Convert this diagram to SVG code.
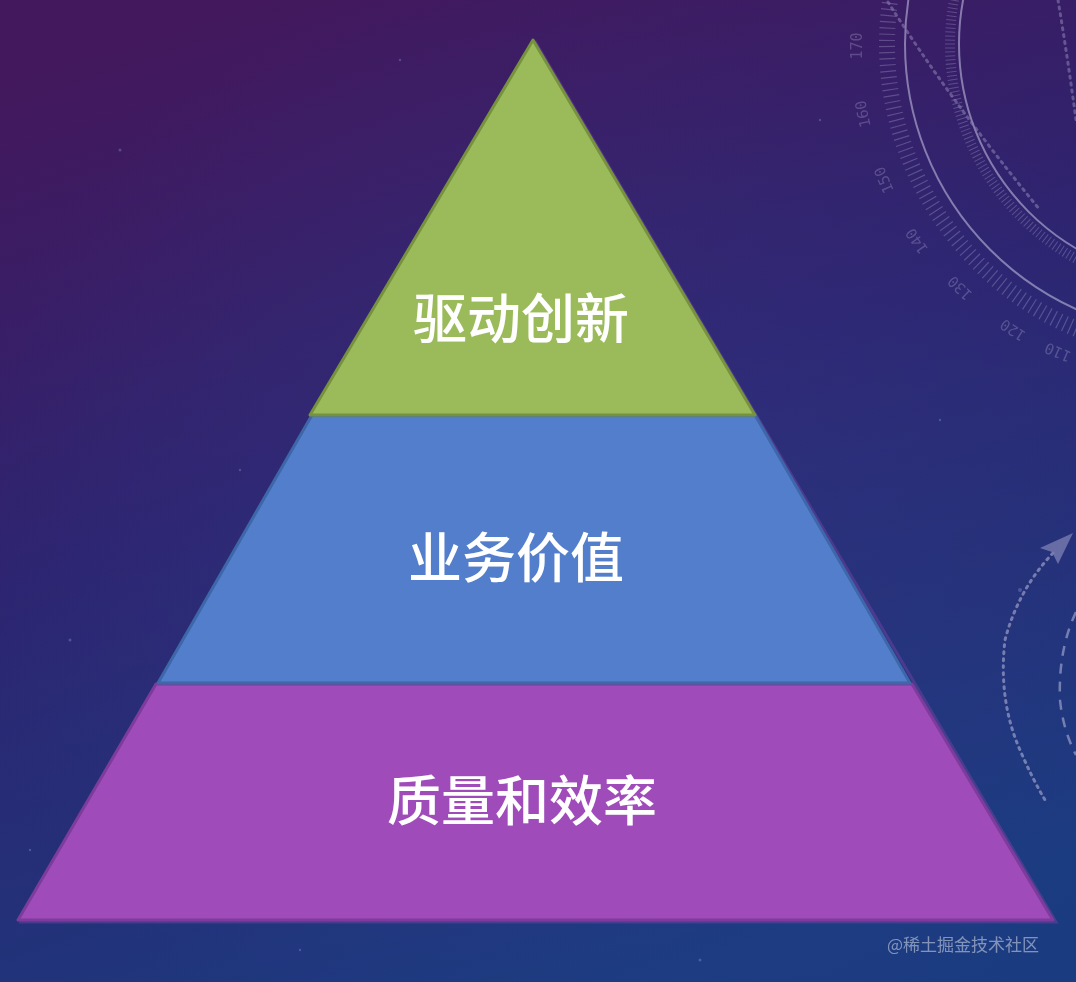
<svg xmlns="http://www.w3.org/2000/svg" width="1076" height="982" viewBox="0 0 1076 982">
<defs>
<linearGradient id="bg" x1="0.25" y1="0" x2="0.6" y2="1">
<stop offset="0" stop-color="#43185d"/>
<stop offset="0.45" stop-color="#2d2470"/>
<stop offset="1" stop-color="#1b3b80"/>
</linearGradient>
<radialGradient id="glow" cx="0.55" cy="0.55" r="0.6">
<stop offset="0" stop-color="#3a4a9a" stop-opacity="0.25"/>
<stop offset="1" stop-color="#3a4a9a" stop-opacity="0"/>
</radialGradient>
<style>
.deco{fill:none;stroke:#c9c6e6;}
.num{font-family:"DejaVu Sans Mono","Liberation Mono",monospace;font-size:15px;fill:#b9b4dc;fill-opacity:0.55;text-anchor:middle;dominant-baseline:central;}
.lbl{font-family:"Noto Sans CJK SC","Noto Sans",sans-serif;font-size:54px;font-weight:500;fill:#ffffff;text-anchor:middle;}
.wm{font-family:"Noto Sans CJK SC","Noto Sans",sans-serif;font-size:17px;fill:#ffffff;fill-opacity:0.45;}
</style>
</defs>
<rect width="1076" height="982" fill="url(#bg)"/>
<rect width="1076" height="982" fill="url(#glow)"/>
<g id="dial" opacity="0.55">
<circle class="deco" cx="1196" cy="44" r="291" stroke-width="2"/>
<circle class="deco" cx="1196" cy="44" r="237" stroke-width="2"/>
<circle class="deco" cx="1196" cy="44" r="309" stroke-width="16" stroke-dasharray="1.2 5" stroke-opacity="0.5"/>
<circle class="deco" cx="1196" cy="44" r="246" stroke-width="10" stroke-dasharray="1 3" stroke-opacity="0.5"/>
<path class="deco" d="M888 2 Q950 100 1040 210" stroke-width="3" stroke-dasharray="2 5" stroke-linecap="round" stroke-opacity="0.6"/>
<path class="deco" d="M1058 0 Q1068 60 1076 120" stroke-width="3" stroke-dasharray="2 5" stroke-linecap="round" stroke-opacity="0.6"/>
<text class="num" transform="translate(857,46) rotate(-90)">170</text>
<text class="num" transform="translate(863,114) rotate(-102)">160</text>
<text class="num" transform="translate(884,180) rotate(-113.5)">150</text>
<text class="num" transform="translate(917,241) rotate(-125)">140</text>
<text class="num" transform="translate(960,288) rotate(-136)">130</text>
<text class="num" transform="translate(1013,330) rotate(-147.4)">120</text>
<text class="num" transform="translate(1058,352) rotate(-157)">110</text>
</g>
<g id="orbit" opacity="0.5">
<path class="deco" d="M1053 553 Q1018 590 1005 640 Q998 700 1020 750 Q1032 778 1045 800" stroke-width="3" stroke-dasharray="2 5" stroke-linecap="round"/>
<path class="deco" d="M1076 612 Q1058 650 1060 700 Q1063 730 1076 755" stroke-width="2.5" stroke-dasharray="10 8"/>
<polygon points="1073,533 1040,548 1052,552 1058,564" fill="#c9c6e6" opacity="0.8"/>
</g>
<g id="stars" fill="#8fa0e0" fill-opacity="0.35">
<circle cx="120" cy="150" r="1.5"/><circle cx="240" cy="470" r="1.2"/><circle cx="70" cy="640" r="1.5"/>
<circle cx="940" cy="420" r="1.2"/><circle cx="1020" cy="590" r="2"/><circle cx="980" cy="880" r="1.5"/>
<circle cx="300" cy="950" r="1.2"/><circle cx="700" cy="960" r="1.5"/><circle cx="30" cy="850" r="1.2"/>
<circle cx="820" cy="120" r="1.2"/><circle cx="400" cy="60" r="1.2"/>
</g>
<g id="shadow" opacity="0.55">
<polygon points="536,43 1056,922 21,922" fill="none" stroke="#6a3fa0" stroke-width="3"/>
</g>
<g id="layer-bottom">
<polygon points="156,684 912,684 1053,920 18,920" fill="#9f4bba" stroke="#7d3c9c" stroke-width="3" stroke-linejoin="round"/>
<text class="lbl" x="522" y="821">质量和效率</text>
</g>
<g id="layer-middle">
<polygon points="312,415 755,415 910,683 158,683" fill="#527ecb" stroke="#3d67a8" stroke-width="3" stroke-linejoin="round"/>
<text class="lbl" x="516" y="578">业务价值</text>
</g>
<g id="layer-top">
<polygon points="533,40 755,415 310,415" fill="#9bbb5b" stroke="#76923e" stroke-width="3" stroke-linejoin="round"/>
<text class="lbl" x="521" y="339">驱动创新</text>
</g>
<text class="wm" x="887" y="951">@稀土掘金技术社区</text>
</svg>
